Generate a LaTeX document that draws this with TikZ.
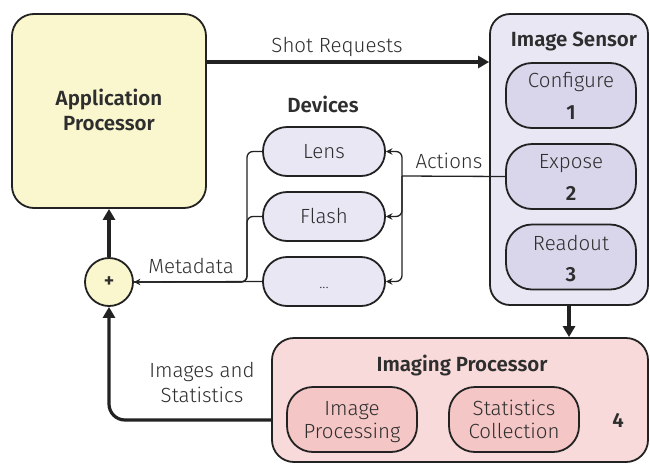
\documentclass[tikz,border=0pt]{standalone}
\usepackage{fontspec}
\setmainfont{Fira Sans Light}[BoldFont={Fira Sans SemiBold}]
\usetikzlibrary{arrows.meta,calc}
\definecolor{apfill}{HTML}{FAF6CD}
\definecolor{devfill}{HTML}{E9E7F4}
\definecolor{sensin}{HTML}{D9D5EA}
\definecolor{ipfill}{HTML}{F8DADA}
\definecolor{ipin}{HTML}{F5C6C6}
\definecolor{txt}{HTML}{2E2E2E}
\definecolor{ln}{HTML}{222222}
\tikzset{
  box/.style={draw=ln, line width=1.8pt, rounded corners=#1, inner sep=0pt},
  box/.default=20pt,
  lbl/.style={text=txt, font=\fontsize{20.5}{24}\selectfont, inner sep=0pt, anchor=base},
  blbl/.style={text=txt, font=\fontsize{20.5}{24}\selectfont\bfseries, inner sep=0pt, anchor=base},
  thickarr/.style={draw=ln, line width=3.2pt, -{Triangle[length=11pt,width=12pt]}},
  thinarr/.style={draw=ln, line width=1.3pt, -{Stealth[length=6.5pt,width=6.5pt]}},
  thinln/.style={draw=ln, line width=1.3pt},
}
\begin{document}
\begin{tikzpicture}[x=1pt,y=-1pt]
\useasboundingbox (0,0) rectangle (650,464);
% Application processor
\node[box=22pt, fill=apfill, minimum width=194pt, minimum height=194pt] (ap) at (109,111) {};
\node[blbl] (apt1) at (109,105) {Application};
\node[blbl] (apt2) at (109,130) {Processor};
% Image sensor
\node[box=20pt, fill=devfill, minimum width=158pt, minimum height=291pt] (sens) at (569,159.5) {};
\node[blbl] (senst) at (574,46) {Image Sensor};
\node[box=26pt, fill=sensin, minimum width=130pt, minimum height=65pt] (conf) at (571,95.5) {};
\node[lbl] (conft) at (571,87) {Configure};
\node[blbl] (confn) at (571,119) {1};
\node[box=26pt, fill=sensin, minimum width=130pt, minimum height=65pt] (expo) at (571,176.5) {};
\node[lbl] (expot) at (571,168) {Expose};
\node[blbl] (expon) at (571,200) {2};
\node[box=26pt, fill=sensin, minimum width=130pt, minimum height=65pt] (read) at (571,257) {};
\node[lbl] (readt) at (571,250) {Readout};
\node[blbl] (readn) at (571,281) {3};
% Devices
\node[blbl] (devt) at (323,112) {Devices};
\node[box=24pt, fill=devfill, minimum width=122pt, minimum height=49pt] (lens) at (324,151.5) {};
\node[lbl] (lenst) at (324,158) {Lens};
\node[box=24pt, fill=devfill, minimum width=122pt, minimum height=49pt] (flash) at (324,216.5) {};
\node[lbl] (flasht) at (324,223) {Flash};
\node[box=24pt, fill=devfill, minimum width=122pt, minimum height=49pt] (dots) at (324,281.5) {};
\node[lbl, font=\fontsize{15}{17}\selectfont] (dotst) at (324,288) {...};
% Sum circle
\node[circle, draw=ln, line width=1.8pt, fill=apfill, minimum size=48pt, inner sep=0pt, font=\fontsize{20}{22}\selectfont\bfseries, text=txt] (circ) at (109,282) {+};
% Imaging processor
\node[box=22pt, fill=ipfill, minimum width=376pt, minimum height=124pt] (ip) at (460,400) {};
\node[blbl] (ipt) at (462,371) {Imaging Processor};
\node[box=26pt, fill=ipin, minimum width=130pt, minimum height=65pt] (iproc) at (352,419.5) {};
\node[lbl] (iproc1) at (352,415) {Image};
\node[lbl] (iproc2) at (352,438) {Processing};
\node[box=26pt, fill=ipin, minimum width=130pt, minimum height=65pt] (stats) at (514,419.5) {};
\node[lbl] (stats1) at (514,415) {Statistics};
\node[lbl] (stats2) at (514,438) {Collection};
\node[blbl] (ipn) at (618,427) {4};
% Connectors
\coordinate (srl) at (206,62);
\draw[thickarr] (srl) -- (sens.west |- srl);
\node[lbl] (srt) at (337,52) {Shot Requests};
\coordinate (actj) at (402,176);
\draw[thinln] (expo.west) -- (actj);
\draw[thinarr, rounded corners=6pt] (actj) |- (lens.east);
\draw[thinarr, rounded corners=6pt] (actj) |- (flash.east);
\draw[thinarr, rounded corners=6pt] (actj) |- (dots.east);
\node[lbl] (actt) at (449,168) {Actions};
\coordinate (metj) at (247,282);
\draw[thinln, rounded corners=6pt] (lens.west) -| (metj) -- (circ.east);
\draw[thinln, rounded corners=6pt] (flash.west) -| (metj) -- (circ.east);
\draw[thinarr] (dots.west) -- (circ.east);
\node[lbl] (mett) at (191,273) {Metadata};
\draw[thickarr] (sens.south) -- (sens.south |- ip.north);
\draw[thickarr] (circ.north) -- (ap.south);
\coordinate (ipl) at ($(ip.west)+(0,20)$);
\draw[thickarr, rounded corners=16pt] (ipl) -| (circ.south);
\node[lbl] (ist1) at (202,377) {Images and};
\node[lbl] (ist2) at (202,402) {Statistics};
\end{tikzpicture}
\end{document}
